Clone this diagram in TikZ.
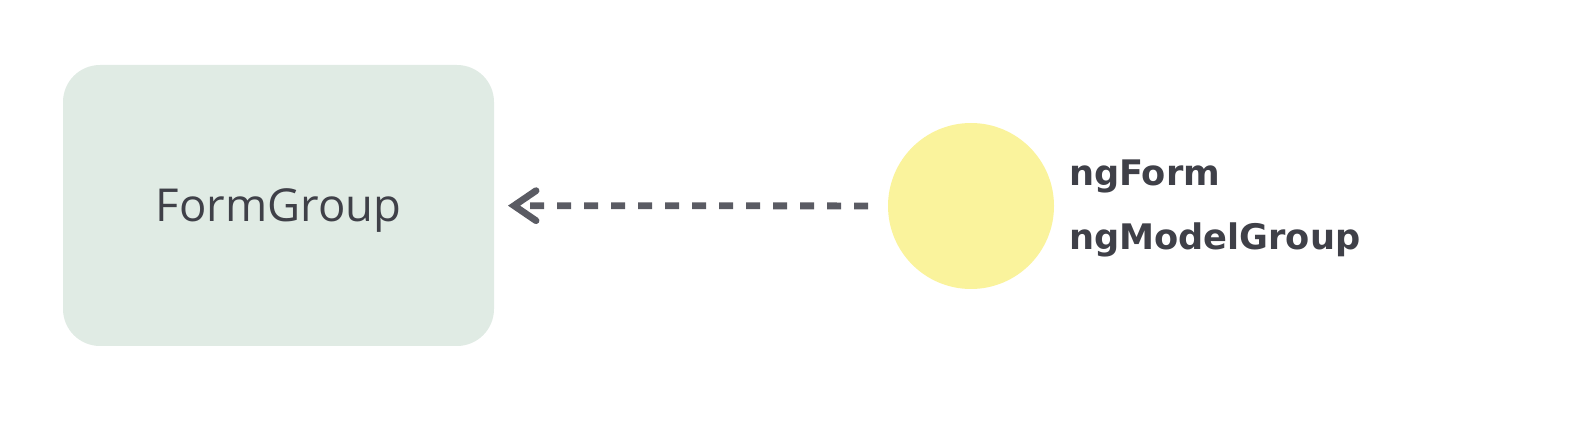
\documentclass[tikz,border=0pt]{standalone}
\usepackage{fontspec}
\setmainfont{Open Sans}
\newfontfamily\labelfont{DejaVu Sans}
\usetikzlibrary{positioning,arrows.meta}
\definecolor{BoxGreen}{HTML}{E0EBE4}
\definecolor{DotYellow}{HTML}{FAF39C}
\definecolor{InkGray}{HTML}{3F4048}
\definecolor{ArrowGray}{HTML}{5A5B63}

\begin{document}
\begin{tikzpicture}[x=0.5pt,y=-0.5pt, every node/.style={inner sep=0pt,outer sep=0pt}]
\useasboundingbox (0,0) rectangle (1585,448);
\node[fill=BoxGreen,rounded corners=18.5pt,minimum width=215.5pt,minimum height=140.5pt,
  text depth=0pt,font=\fontsize{22.7}{28}\selectfont,text=InkGray] (group) at (278.5,205.5) {FormGroup};
\node[circle,fill=DotYellow,minimum size=83pt] (dir) at (971,206) {};
\node[anchor=base west,font=\labelfont\bfseries\fontsize{17.6}{21}\selectfont,text=InkGray] (form) at (1069,186) {ngForm};
\node[anchor=base west,font=\labelfont\bfseries\fontsize{17.6}{21}\selectfont,text=InkGray] (model) at (1069,250) {ngModelGroup};
\draw[-{Straight Barb[length=11pt,width=15pt,line cap=round]},line width=3.4pt,ArrowGray,
  dash pattern=on 7pt off 6.5pt,shorten >=7pt,shorten <=10pt] (dir) -- (group);
\end{tikzpicture}
\end{document}
